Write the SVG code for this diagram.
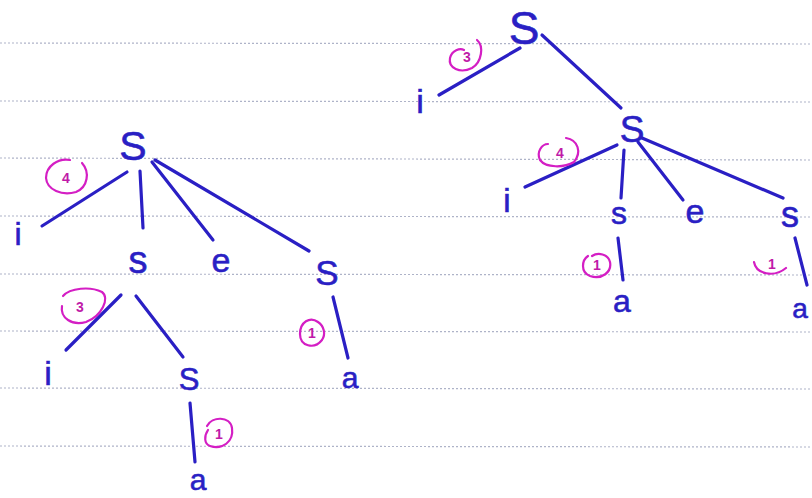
<svg xmlns="http://www.w3.org/2000/svg" width="812" height="498" viewBox="0 0 812 498">
<style>
.rule{stroke:#aeb3c8;stroke-width:1.2;stroke-dasharray:2 2;fill:none}
.edge{stroke:#2a1fc4;stroke-width:3.2;stroke-linecap:round;fill:none}
.lbl{font-family:"Liberation Sans",Arial,sans-serif;fill:#2a1fc4;stroke:#2a1fc4;stroke-width:0.6;text-anchor:middle}
.ring{stroke:#d41ec4;stroke-width:2.2;fill:none;stroke-linecap:round}
.num{font-family:"Liberation Sans",Arial,sans-serif;font-weight:bold;fill:#c01aa8;font-size:14px;text-anchor:middle}
</style>
<rect width="812" height="498" fill="#ffffff"/>
<g id="paper">
<line class="rule" x1="0" y1="43" x2="812" y2="44"/>
<line class="rule" x1="0" y1="101" x2="812" y2="102"/>
<line class="rule" x1="0" y1="158" x2="812" y2="160"/>
<line class="rule" x1="0" y1="216" x2="812" y2="217"/>
<line class="rule" x1="0" y1="274" x2="812" y2="275"/>
<line class="rule" x1="0" y1="331" x2="812" y2="332"/>
<line class="rule" x1="0" y1="388" x2="812" y2="389"/>
<line class="rule" x1="0" y1="446" x2="812" y2="447"/>
</g>
<g id="connectors">
<line class="edge" x1="127" y1="172" x2="42" y2="226"/>
<line class="edge" x1="140" y1="171" x2="143" y2="228"/>
<line class="edge" x1="152" y1="162" x2="213" y2="240"/>
<line class="edge" x1="155" y1="160" x2="309" y2="251"/>
<line class="edge" x1="121" y1="295" x2="66" y2="350"/>
<line class="edge" x1="136" y1="296" x2="183" y2="357"/>
<line class="edge" x1="190" y1="403" x2="195" y2="462"/>
<line class="edge" x1="333" y1="297" x2="348" y2="358"/>
<line class="edge" x1="520" y1="48" x2="439" y2="95"/>
<line class="edge" x1="542" y1="35" x2="621" y2="108"/>
<line class="edge" x1="617" y1="145" x2="525" y2="187"/>
<line class="edge" x1="624" y1="150" x2="621" y2="198"/>
<line class="edge" x1="638" y1="142" x2="683" y2="200"/>
<line class="edge" x1="642" y1="138" x2="783" y2="198"/>
<line class="edge" x1="618" y1="238" x2="623" y2="280"/>
<line class="edge" x1="795" y1="238" x2="807" y2="285"/>
</g>
<g id="rules-labels">
<g id="r4a"><path class="ring" d="M70 160 C58 158 46 166 46 178 C47 190 62 196 76 192 C88 187 90 172 82 163"/><text class="num" x="66" y="183">4</text></g>
<g id="r3a"><path class="ring" d="M63 296 C70 288 90 286 102 292 C110 298 102 316 86 322 C72 326 60 318 62 306"/><text class="num" x="80" y="312">3</text></g>
<g id="r1a"><path class="ring" d="M207 426 C212 416 230 416 232 428 C234 442 222 450 210 446 C204 444 204 436 208 430"/><text class="num" x="219" y="439">1</text></g>
<g id="r1b"><path class="ring" d="M318 322 C310 316 300 322 300 334 C300 346 314 350 322 340 C326 334 324 326 318 322"/><text class="num" x="312" y="338">1</text></g>
<g id="r3b"><path class="ring" d="M477 40 C484 46 482 62 472 68 C460 74 448 68 450 58 C452 50 460 48 464 50"/><text class="num" x="467" y="62">3</text></g>
<g id="r4b"><path class="ring" d="M566 138 C578 140 582 152 574 162 C564 168 546 168 540 160 C536 152 542 144 548 144"/><text class="num" x="560" y="158">4</text></g>
<g id="r1c"><path class="ring" d="M588 256 C582 260 580 272 590 276 C602 280 612 272 610 262 C608 254 598 252 592 256"/><text class="num" x="597" y="270">1</text></g>
<g id="r1d"><path class="ring" d="M754 262 C756 274 774 278 786 268"/><text class="num" x="772" y="269">1</text></g>
</g>
<g id="L_S0"><text class="lbl" x="133" y="160" font-size="41">S</text></g>
<g id="L_i1"><text class="lbl" x="18" y="245" font-size="32">i</text></g>
<g id="L_s1"><text class="lbl" x="138" y="273" font-size="38">s</text></g>
<g id="L_e1"><text class="lbl" x="221" y="272" font-size="34">e</text></g>
<g id="L_S2"><text class="lbl" x="327" y="285" font-size="35">S</text></g>
<g id="L_i2"><text class="lbl" x="48" y="385" font-size="34">i</text></g>
<g id="L_S3"><text class="lbl" x="189" y="390" font-size="31">S</text></g>
<g id="L_a1"><text class="lbl" x="198" y="490" font-size="30">a</text></g>
<g id="L_a2"><text class="lbl" x="350" y="388" font-size="30">a</text></g>
<g id="R_S0"><text class="lbl" x="524" y="44" font-size="46">S</text></g>
<g id="R_i1"><text class="lbl" x="420" y="113" font-size="34">i</text></g>
<g id="R_S1"><text class="lbl" x="632" y="142" font-size="37">S</text></g>
<g id="R_i2"><text class="lbl" x="507" y="212" font-size="33">i</text></g>
<g id="R_s1"><text class="lbl" x="619" y="224" font-size="32">s</text></g>
<g id="R_e1"><text class="lbl" x="695" y="223" font-size="34">e</text></g>
<g id="R_s2"><text class="lbl" x="790" y="227" font-size="36">s</text></g>
<g id="R_a1"><text class="lbl" x="622" y="312" font-size="32">a</text></g>
<g id="R_a2"><text class="lbl" x="800" y="318" font-size="28">a</text></g>
</svg>
